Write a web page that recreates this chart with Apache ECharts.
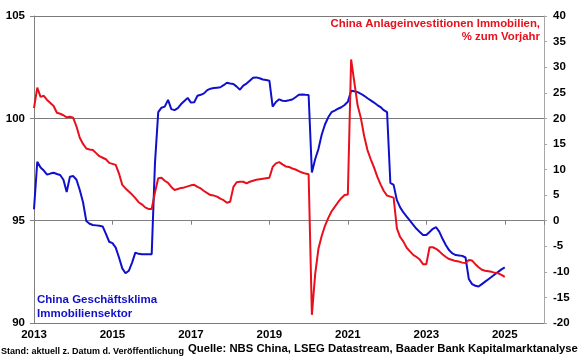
<!DOCTYPE html>
<html><head><meta charset="utf-8">
<script src="https://cdn.jsdelivr.net/npm/echarts@6/dist/echarts.min.js"></script>
<style>html,body{margin:0;padding:0;background:#fff}#c{width:580px;height:359px}</style>
</head><body><div id="c"></div>
<script>
// Monthly data, index 0 = Jan 2013
const startYear = 2013;
const xLabelYears = [2013, 2015, 2017, 2019, 2021, 2023, 2025];
const leftTicks = [90, 95, 100, 105];
const rightTicks = [-20, -15, -10, -5, 0, 5, 10, 15, 20, 25, 30, 35, 40];

// China Geschäftsklima Immobiliensektor (left axis)
const climate = [
  95.56, 97.88, 97.6, 97.45, 97.25, 97.3, 97.34, 97.28, 97.23, 97.0, 96.4, 97.15,
  97.18, 97.0, 96.5, 95.9, 94.98, 94.85, 94.79, 94.77, 94.75, 94.72, 94.35, 93.97,
  93.9, 93.68, 93.2, 92.67, 92.43, 92.55, 92.95, 93.44, 93.38, 93.36, 93.36, 93.36,
  93.36, 97.8, 100.3, 100.52, 100.57, 100.9, 100.45, 100.4, 100.5, 100.7, 100.85, 101.0,
  100.77, 100.78, 101.1, 101.15, 101.22, 101.38, 101.45, 101.48, 101.5, 101.52, 101.62, 101.74,
  101.7, 101.68, 101.55, 101.4, 101.6, 101.7, 101.84, 101.98, 102.0, 101.96, 101.9, 101.87,
  101.84, 100.57, 100.8, 100.93, 100.86, 100.85, 100.88, 100.92, 101.03, 101.15, 101.17, 101.15,
  101.14, 97.35, 98.0, 98.5, 99.2, 99.7, 100.05, 100.3, 100.38, 100.47, 100.54, 100.65,
  100.81, 101.35, 101.32, 101.28, 101.2, 101.1, 100.98, 100.88, 100.77, 100.65, 100.55, 100.4,
  100.3, 96.85, 96.75, 96.0, 95.65, 95.4, 95.2, 95.0, 94.8, 94.6, 94.45, 94.3,
  94.3, 94.45, 94.6, 94.68, 94.45, 94.1, 93.8, 93.55, 93.4, 93.32, 93.3, 93.28,
  93.2, 92.15, 91.9, 91.82, 91.78, 91.9, 92.02, 92.14, 92.26, 92.38, 92.5, 92.62,
  92.72
];

// China Anlageinvestitionen Immobilien, % zum Vorjahr (right axis)
const investment = [
  22.0, 26.0, 24.2, 24.4, 23.6, 23.0, 22.4, 21.1, 20.9, 20.6, 20.2, 20.3,
  20.1, 18.4, 16.2, 15.0, 14.1, 13.9, 13.8, 13.2, 12.6, 12.3, 12.0, 11.3,
  11.1, 10.9, 9.2, 7.0, 6.3, 5.7, 5.1, 4.4, 3.6, 3.2, 2.6, 2.3,
  2.3, 5.5, 8.3, 8.4, 7.8, 7.4, 6.6, 6.0, 6.2, 6.4, 6.5, 6.7,
  6.9, 7.0, 6.6, 6.3, 5.8, 5.4, 5.0, 4.9, 4.7, 4.3, 4.0, 3.5,
  3.7, 6.6, 7.5, 7.6, 7.6, 7.3, 7.6, 7.8, 8.0, 8.1, 8.2, 8.3,
  8.4, 10.5, 11.2, 11.45, 11.0, 10.6, 10.5, 10.2, 10.0, 9.7, 9.4, 9.2,
  9.06, -18.4, -10.5, -5.5, -3.0, -1.0, 0.5, 1.8, 2.7, 3.6, 4.4, 5.0,
  5.1, 31.5, 27.0, 22.5, 20.0, 16.5, 13.8, 12.0, 10.4, 8.6, 7.1, 5.8,
  4.9, 4.7, 4.5, -1.5, -3.2, -4.1, -5.3, -6.0, -6.7, -7.1, -7.6, -8.5,
  -8.5, -5.2, -5.2, -5.5, -6.0, -6.6, -7.1, -7.5, -7.7, -7.9, -8.0, -8.2,
  -8.3, -7.7, -7.8, -8.5, -9.1, -9.6, -9.8, -9.9, -10.0, -10.2, -10.3, -10.6,
  -11.0
];

const FONT = 'Liberation Sans, Arial, sans-serif';
const BLUE = '#1010cc';
const RED = '#e8101c';

const chart = echarts.init(document.getElementById('c'), null, {renderer: 'canvas'});
const toPairs = arr => arr.map((v, i) => [i, v]);

const labelStyle = {color: '#000', fontFamily: FONT, fontWeight: 'bold', fontSize: 11.5};

chart.setOption({
  animation: false,
  backgroundColor: '#fff',
  grid: {left: 34, right: 36, top: 16, bottom: 36, containLabel: false},
  xAxis: {
    type: 'value', min: 0, max: 156, interval: 24,
    axisLine: {show: true, lineStyle: {color: '#808080', width: 1}},
    axisTick: {show: true, length: 4, lineStyle: {color: '#808080'}},
    splitLine: {show: false},
    axisLabel: Object.assign({}, labelStyle, {
      margin: 6,
      formatter: v => {
        const y = startYear + v / 12;
        return xLabelYears.includes(y) ? String(y) : '';
      }
    })
  },
  yAxis: [
    {
      type: 'value', position: 'left', min: leftTicks[0], max: leftTicks[leftTicks.length - 1], interval: 5,
      axisLine: {show: true, lineStyle: {color: '#808080'}},
      axisTick: {show: true, length: 4, lineStyle: {color: '#808080'}},
      splitLine: {show: true, lineStyle: {color: '#7a7a7a', width: 1}},
      axisLabel: Object.assign({}, labelStyle, {margin: 9})
    },
    {
      type: 'value', position: 'right', min: rightTicks[0], max: rightTicks[rightTicks.length - 1], interval: 5,
      axisLine: {show: true, lineStyle: {color: '#a6a6a6'}},
      axisTick: {show: true, length: 3, lineStyle: {color: '#a6a6a6'}},
      splitLine: {show: false},
      axisLabel: Object.assign({}, labelStyle, {margin: 9})
    }
  ],
  series: [
    {
      name: 'China Geschäftsklima Immobiliensektor', type: 'line', yAxisIndex: 0,
      data: toPairs(climate), showSymbol: false, symbol: 'none',
      lineStyle: {color: BLUE, width: 2}, z: 2
    },
    {
      name: 'China Anlageinvestitionen Immobilien, % zum Vorjahr', type: 'line', yAxisIndex: 1,
      data: toPairs(investment), showSymbol: false, symbol: 'none',
      lineStyle: {color: RED, width: 2}, z: 3
    }
  ],
  graphic: [
    {type: 'text', left: 37, top: 293, z: 10,
      style: {text: 'China Geschäftsklima\nImmobiliensektor', fill: BLUE, font: 'bold 11.5px ' + FONT, lineHeight: 14}},
    {type: 'text', x: 540, y: 17, z: 10,
      style: {text: 'China Anlageinvestitionen Immobilien,\n% zum Vorjahr', fill: RED, font: 'bold 11.4px ' + FONT,
        lineHeight: 13.5, align: 'right', textAlign: 'right', verticalAlign: 'top', textVerticalAlign: 'top'}},
    {type: 'text', left: 1, top: 347, z: 10,
      style: {text: 'Stand: aktuell z. Datum d. Veröffentlichung', fill: '#000', font: 'bold 9px ' + FONT}},
    {type: 'text', left: 188, top: 343, z: 10,
      style: {text: 'Quelle: NBS China, LSEG Datastream, Baader Bank Kapitalmarktanalyse', fill: '#000', font: 'bold 11.3px ' + FONT}}
  ]
});
</script>
</body></html>
